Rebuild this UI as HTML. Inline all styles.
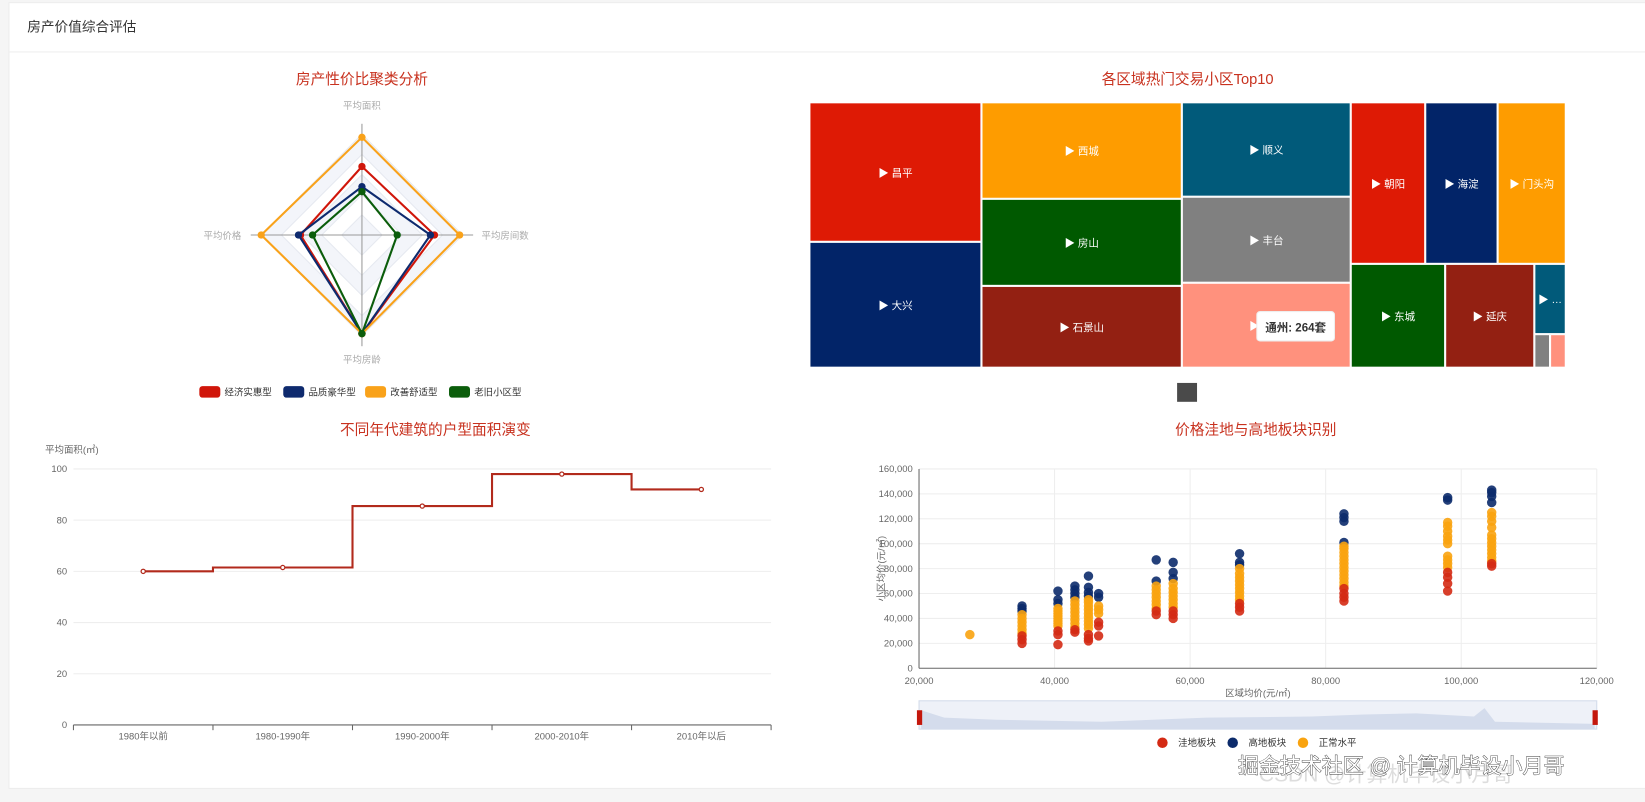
<!DOCTYPE html>
<html><head><meta charset="utf-8"><style>
body{margin:0;background:#f5f5f5;width:1645px;height:801px;overflow:hidden;font-family:"Liberation Sans","Noto Sans CJK SC",sans-serif}
#wrap{position:absolute;left:0;top:0;width:1568px;height:764px;transform:scale(1.04911);transform-origin:0 0}
#card{position:absolute;left:8px;top:2px;width:1560px;height:748px;background:#fff;border:1px solid #ececec}
#hdr{position:absolute;left:0;top:0;width:1560px;height:46px;border-bottom:1px solid #eee;font-size:13px;color:#333;line-height:46px;text-indent:17px}
svg{position:absolute;left:0;top:0}
text{font-family:"Liberation Sans","Noto Sans CJK SC",sans-serif}
</style></head><body>
<div id="wrap">
<div id="card"><div id="hdr">房产价值综合评估</div></div>
<svg id="s" width="1568" height="764"></svg>
</div>
<script>
// Radar data
const radarAxes=['平均面积','平均房间数','平均房龄','平均价格'];
const radarNames=['经济实惠型','品质豪华型','改善舒适型','老旧小区型'];
const radarVals=[[0.68,0.72,0.98,0.61],[0.48,0.68,0.98,0.63],[0.97,0.97,0.98,1.0],[0.43,0.35,0.98,0.49]];
const radarColors=['#d0160a','#0e2a6e','#f9a21a','#0b5d0b'];
// Treemap data
const tmNames=['昌平','大兴','西城','房山','石景山','顺义','丰台','通州','朝阳','海淀','门头沟','东城','延庆','…'];
// Step chart data
const stepCats=['1980年以前','1980-1990年','1990-2000年','2000-2010年','2010年以后'];
const stepVals=[60,61.5,85.5,98,92];
const stepTicks=[0,20,40,60,80,100];
// Scatter data
const sxTicks=[20000,40000,60000,80000,100000,120000];
const syTicks=[0,20000,40000,60000,80000,100000,120000,140000,160000];
const lowPts=[[35200,20000],[35200,23000],[35200,26000],[40500,19000],[40500,27000],[40500,30000],[43000,29000],[43000,31000],[45000,22000],[45000,24000],[45000,27000],[46500,26000],[46500,34000],[46500,37000],[55000,43000],[55000,46000],[57500,40000],[57500,43000],[57500,46000],[67300,46000],[67300,49000],[67300,52000],[82700,54000],[82700,57000],[82700,60000],[82700,64000],[98000,62000],[98000,68000],[98000,73000],[98000,77000],[104500,82000],[104500,84000]];
const highPts=[[35200,46000],[35200,48000],[35200,50000],[40500,52000],[40500,55000],[40500,62000],[43000,57000],[43000,60000],[43000,63000],[43000,66000],[45000,58000],[45000,61000],[45000,65000],[45000,74000],[46500,57000],[46500,60000],[55000,70000],[55000,87000],[57500,72000],[57500,77000],[57500,85000],[67300,83000],[67300,85000],[67300,92000],[82700,101000],[82700,118000],[82700,121000],[82700,124000],[98000,135000],[98000,137000],[104500,133000],[104500,138000],[104500,141000],[104500,143000]];
const normPts=[[27500,27000],[35200,28000],[35200,31000],[35200,34000],[35200,37000],[35200,40000],[35200,43000],[40500,34000],[40500,36000],[40500,38000],[40500,40000],[40500,42000],[40500,44000],[40500,46000],[40500,48000],[43000,33000],[43000,36000],[43000,39000],[43000,42000],[43000,45000],[43000,48000],[43000,51000],[43000,54000],[45000,32000],[45000,35000],[45000,38000],[45000,41000],[45000,44000],[45000,47000],[45000,50000],[45000,53000],[45000,55000],[46500,44000],[46500,47000],[46500,50000],[55000,48000],[55000,51000],[55000,54000],[55000,57000],[55000,60000],[55000,63000],[55000,66000],[57500,49000],[57500,52000],[57500,55000],[57500,58000],[57500,61000],[57500,64000],[57500,68000],[67300,55000],[67300,58000],[67300,61000],[67300,64000],[67300,67000],[67300,70000],[67300,73000],[67300,76000],[67300,80000],[82700,66000],[82700,69000],[82700,72000],[82700,75000],[82700,78000],[82700,81000],[82700,84000],[82700,87000],[82700,90000],[82700,93000],[82700,96000],[82700,98000],[98000,81000],[98000,84000],[98000,87000],[98000,90000],[98000,100000],[98000,103000],[98000,106000],[98000,110000],[98000,114000],[98000,117000],[104500,86000],[104500,89000],[104500,92000],[104500,95000],[104500,98000],[104500,101000],[104500,104000],[104500,107000],[104500,113000],[104500,118000],[104500,122000],[104500,125000]];

const S=document.getElementById('s');const NS='http://www.w3.org/2000/svg';
function el(t,a,p){const e=document.createElementNS(NS,t);for(const k in a)e.setAttribute(k,a[k]);(p||S).appendChild(e);return e;}
function tx(x,y,s,a){const e=el('text',Object.assign({x:x,y:y},a));e.textContent=s;return e;}
const TC='#c8321f';
[['房产性价比聚类分析',345,'radar-title'],['各区域热门交易小区Top10',1132,'treemap-title']].forEach(t=>{const e=tx(t[1],80,t[0],{'font-size':14,fill:TC,'text-anchor':'middle'});});
[['不同年代建筑的户型面积演变',415,'step-title'],['价格洼地与高地板块识别',1197,'scatter-title']].forEach(t=>{const e=tx(t[1],414,t[0],{'font-size':14,fill:TC,'text-anchor':'middle'});});

// RADAR
const cx=345,cy=224,R=96;
const dirs=[[0,-1],[1,0],[0,1],[-1,0]];
for(let k=5;k>=1;k--){const r=R*k/5;const p=dirs.map(d=>(cx+d[0]*r)+','+(cy+d[1]*r)).join(' ');const g=el('polygon',{points:p,fill:k%2?'#f3f5fa':'#fff',stroke:'#e6e9f0','stroke-width':1});}
dirs.forEach((d,i)=>{const l=el('line',{x1:cx,y1:cy,x2:cx+d[0]*(R+10),y2:cy+d[1]*(R+10),stroke:'#999','stroke-width':1});});
const lp=[[cx,104,'middle'],[459,228,'start'],[cx,346,'middle'],[230,228,'end']];
radarAxes.forEach((a,i)=>{const t=tx(lp[i][0],lp[i][1],a,{'font-size':9,fill:'#aaa','text-anchor':lp[i][2]});});
radarVals.forEach((v,si)=>{const pts=v.map((val,i)=>[cx+dirs[i][0]*R*val,cy+dirs[i][1]*R*val]);
 const pg=el('polygon',{points:pts.map(p=>p.join(',')).join(' '),fill:'none',stroke:radarColors[si],'stroke-width':2});
 pts.forEach(p=>{const c=el('circle',{cx:p[0],cy:p[1],r:3.5,fill:radarColors[si]});});});
const lgx=[190,270,348,428];
radarNames.forEach((n,i)=>{const r=el('rect',{x:lgx[i],y:368,width:20,height:11,rx:3,fill:radarColors[i]});const t=tx(lgx[i]+24,377,n,{'font-size':9,fill:'#333'});});

// TREEMAP
const tmRects=[[772,98,163,132,'#de1a05'],[772,231,163,119,'#022468'],[936,98,190,91,'#fe9c00'],[936,190,190,82,'#005900'],[936,273,190,77,'#932012'],[1127,98,160,89,'#015a7a'],[1127,188,160,81,'#808080'],[1127,270,160,80,'#ff917d'],[1288,98,70,153,'#de1a05'],[1359,98,68,153,'#022468'],[1428,98,64,153,'#fe9c00'],[1288,252,89,98,'#005900'],[1378,252,84,98,'#932012'],[1463,252,29,66,'#015a7a']];
el('rect',{x:772,y:98,width:720,height:252,fill:'#ddd'});
tmRects.forEach((r,i)=>{const g=el('rect',{x:r[0],y:r[1],width:r[2],height:r[3],fill:r[4],stroke:'#fff','stroke-width':1});
 const t=tx(r[0]+r[2]/2,r[1]+r[3]/2+4,'▶ '+tmNames[i],{'font-size':10,fill:'#fff','text-anchor':'middle'});});
el('rect',{x:1463,y:319,width:14,height:31,fill:'#808080',stroke:'#fff'});el('rect',{x:1478,y:319,width:14,height:31,fill:'#ff917d',stroke:'#fff'});
const tip=el('rect',{x:1198,y:297,width:74,height:28,rx:3,fill:'#fff',stroke:'#eee'});
tx(1235,316,'通州: 264套',{'font-size':11,fill:'#333','text-anchor':'middle','font-weight':'bold'});
const bc=el('rect',{x:1122,y:365,width:19,height:18,fill:'#4a4a4a'});

// STEP
const px0=70,px1=735,py0=691,py1=447;
const xs=i=>px0+(px1-px0)*(i+0.5)/stepCats.length, ys=v=>py0-(py0-py1)*v/100;
stepTicks.forEach(t=>{if(t>0){const l=el('line',{x1:px0,x2:px1,y1:ys(t),y2:ys(t),stroke:'#eee'});}
 const tt=tx(64,ys(t)+3,t,{'font-size':9,fill:'#666','text-anchor':'end'});});
el('line',{x1:px0,x2:px1,y1:py0,y2:py0,stroke:'#666'});
stepCats.forEach((c,i)=>{const l=px0+(px1-px0)*i/stepCats.length;el('line',{x1:l,x2:l,y1:py0,y2:py0+5,stroke:'#666'});const t=tx(xs(i),py0+14,c,{'font-size':9,fill:'#666','text-anchor':'middle'});});
el('line',{x1:px1,x2:px1,y1:py0,y2:py0+5,stroke:'#666'});
const yt=tx(43,432,'平均面积(㎡)',{'font-size':9,fill:'#666'});
let d='M'+xs(0)+','+ys(stepVals[0]);
for(let i=1;i<stepVals.length;i++){const m=(xs(i-1)+xs(i))/2;d+=' H'+m+' V'+ys(stepVals[i])+' H'+xs(i);}
const sl=el('path',{d:d,fill:'none',stroke:'#b22a1c','stroke-width':2});
stepVals.forEach((v,i)=>{const c=el('circle',{cx:xs(i),cy:ys(v),r:2,fill:'#fff',stroke:'#b22a1c','stroke-width':1.2});});

// SCATTER
const qx0=876,qx1=1522,qy0=637,qy1=447;
const X=v=>qx0+(qx1-qx0)*(v-20000)/100000, Y=v=>qy0-(qy0-qy1)*v/160000;
syTicks.forEach(t=>{if(t>0){el('line',{x1:qx0,x2:qx1,y1:Y(t),y2:Y(t),stroke:'#eee'});}const tt=tx(870,Y(t)+3,t.toLocaleString('en-US'),{'font-size':9,fill:'#666','text-anchor':'end'});});
sxTicks.forEach(t=>{if(t>20000)el('line',{x1:X(t),x2:X(t),y1:qy0,y2:qy1,stroke:'#eee'});const tt=tx(X(t),qy0+15,t.toLocaleString('en-US'),{'font-size':9,fill:'#666','text-anchor':'middle'});});
el('line',{x1:qx0,x2:qx1,y1:qy0,y2:qy0,stroke:'#666'});el('line',{x1:qx0,x2:qx0,y1:qy0,y2:qy1,stroke:'#666'});
const xa=tx(1199,664,'区域均价(元/㎡)',{'font-size':9,fill:'#666','text-anchor':'middle'});
const ya=tx(0,0,'小区均价(元/㎡)',{'font-size':9,fill:'#666','text-anchor':'middle',transform:'translate(843,542) rotate(-90)'});
[[highPts,'#0c2b6b'],[normPts,'#f9a30f'],[lowPts,'#d42a14']].forEach(s=>s[0].forEach(p=>{const c=el('circle',{cx:X(p[0]),cy:Y(p[1]),r:4.5,fill:s[1],'fill-opacity':0.9});}));
const dz=el('rect',{x:876,y:668,width:646,height:27,fill:'#eef1f8',stroke:'#d3dbea'});
el('path',{d:'M878,677 L900,684 L950,686 L1050,688 L1150,684 L1250,683 L1300,681 L1350,680 L1405,683 L1415,675 L1425,688 L1520,690 V695 H878 Z',fill:'#d4dcec'});
[876,1520].forEach(x=>{const h=el('rect',{x:x-2,y:677,width:5,height:14,fill:'#c4170c'});});
[['洼地板块','#d42a14',1108],['高地板块','#0c2b6b',1175],['正常水平','#f9a30f',1242]].forEach(l=>{const c=el('circle',{cx:l[2],cy:708,r:5,fill:l[1]});const t=tx(l[2]+15,711,l[0],{'font-size':9,fill:'#333'});});
const wm2=tx(1200,745,'CSDN @计算机毕设小月哥',{'font-size':20,fill:'#ddd'});
const wm=tx(1180,737,'掘金技术社区 @ 计算机毕设小月哥',{'font-size':20,fill:'#fff',stroke:'#333','stroke-width':0.8,'paint-order':'stroke'});
</script>
</body></html>
